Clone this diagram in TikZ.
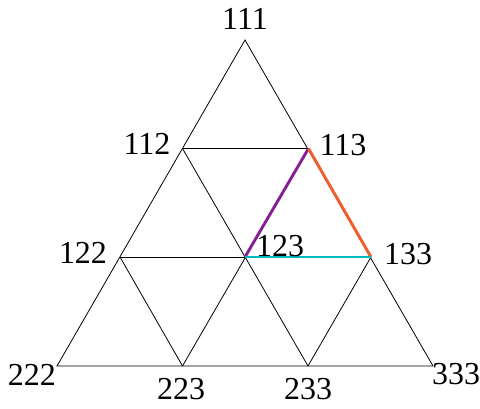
\documentclass[tikz,border=0pt]{standalone}
\usepackage{fontspec}
\setmainfont{Liberation Serif}
\definecolor{edgepurple}{RGB}{135,30,150}
\definecolor{edgeorange}{RGB}{240,95,45}
\definecolor{edgecyan}{RGB}{0,185,190}
\begin{document}
\begin{tikzpicture}[x=1pt,y=-1pt,font=\fontsize{32}{34}\selectfont,
  lbl/.style={inner sep=0pt,anchor=center},
  hilite/.style={line width=2.9pt}]
\useasboundingbox (0,0) rectangle (480,409);
% vertices
\coordinate (p111) at (245,40);
\coordinate (p112) at (182.5,148.5);
\coordinate (p113) at (308.5,148.5);
\coordinate (p122) at (120,257);
\coordinate (p123) at (245,257);
\coordinate (p133) at (371,257);
\coordinate (p222) at (57,366);
\coordinate (p223) at (182.5,366);
\coordinate (p233) at (308,366);
\coordinate (p333) at (433,366);

\draw[line width=0.8pt] (p111) -- (p222) -- (p333) -- cycle;
\draw[line width=0.8pt] (p112) -- (p113);
\draw[line width=0.8pt] (p122) -- (p133);
\draw[line width=0.8pt] (p112) -- (p233);
\draw[line width=0.8pt] (p122) -- (p223);
\draw[line width=0.8pt] (p223) -- (p113);
\draw[line width=0.8pt] (p233) -- (p133);

\draw[hilite,edgepurple] (p123) -- (p113);
\draw[hilite,edgeorange] (p113) -- (p133);
\draw[hilite,edgecyan] (p123) -- (p133);

% labels
\node[lbl] (l111) at (245,19) {111};
\node[lbl] (l112) at (147,144) {112};
\node[lbl] (l113) at (343,145) {113};
\node[lbl] (l122) at (83,253) {122};
\node[lbl] (l123) at (280,246) {123};
\node[lbl] (l133) at (408,254) {133};
\node[lbl] (l222) at (32,375) {222};
\node[lbl] (l223) at (181,389) {223};
\node[lbl] (l233) at (308,389) {233};
\node[lbl] (l333) at (456,374) {333};
\end{tikzpicture}
\end{document}
